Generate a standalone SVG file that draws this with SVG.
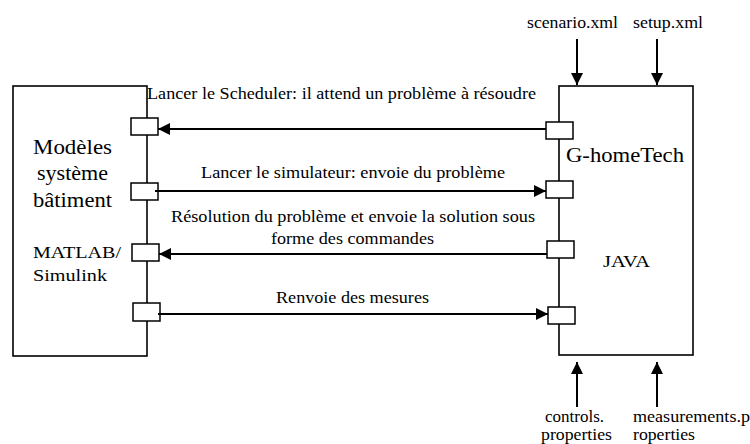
<svg xmlns="http://www.w3.org/2000/svg" width="750" height="444" viewBox="0 0 750 444">
<style>
.box{fill:#fff;stroke:#000;stroke-width:1.6}
.port{fill:#fff;stroke:#000;stroke-width:1.5}
.conn{stroke:#000;stroke-width:2;fill:none}
.s{font-size:16px}
.b{font-size:20px}
</style>
<defs>
<marker id="ah" markerUnits="userSpaceOnUse" markerWidth="13" markerHeight="12" refX="12" refY="6" orient="auto">
<path d="M0,0 L12,6 L0,12 Z" fill="#000"/>
</marker>
</defs>
<g font-family="'Liberation Serif', 'Times New Roman', serif" fill="#000">
<g id="modeles">
<rect class="box" x="13" y="86" width="134" height="270"/>
<text class="b" x="72.5" y="154" text-anchor="middle" textLength="79" lengthAdjust="spacingAndGlyphs">Modèles</text>
<text class="b" x="72.5" y="180" text-anchor="middle" textLength="71" lengthAdjust="spacingAndGlyphs">système</text>
<text class="b" x="72.5" y="207" text-anchor="middle" textLength="79" lengthAdjust="spacingAndGlyphs">bâtiment</text>
<text class="s" x="33" y="258" textLength="88" lengthAdjust="spacingAndGlyphs">MATLAB/</text>
<text class="s" x="33" y="281" textLength="74" lengthAdjust="spacingAndGlyphs">Simulink</text>
<rect class="port" x="131" y="118" width="27" height="17"/>
<rect class="port" x="131" y="183" width="27" height="17"/>
<rect class="port" x="132" y="244" width="27" height="17"/>
<rect class="port" x="133" y="303" width="27" height="18"/>
</g>
<g id="ghometech">
<rect class="box" x="559" y="86" width="134" height="269"/>
<text class="b" x="566" y="162" textLength="118" lengthAdjust="spacingAndGlyphs">G-homeTech</text>
<text class="s" x="603" y="267" textLength="47" lengthAdjust="spacingAndGlyphs">JAVA</text>
<rect class="port" x="546" y="122" width="27" height="17"/>
<rect class="port" x="546" y="181" width="27" height="17"/>
<rect class="port" x="547" y="241" width="27" height="17"/>
<rect class="port" x="548" y="307" width="27" height="17"/>
</g>
<g id="scenario">
<text class="s" x="527" y="28" textLength="91" lengthAdjust="spacingAndGlyphs">scenario.xml</text>
</g>
<g id="setup">
<text class="s" x="633" y="28" textLength="70" lengthAdjust="spacingAndGlyphs">setup.xml</text>
</g>
<g id="controls">
<text class="s" x="545" y="422" textLength="59" lengthAdjust="spacingAndGlyphs">controls.</text>
<text class="s" x="541" y="440" textLength="71" lengthAdjust="spacingAndGlyphs">properties</text>
</g>
<g id="measurements">
<text class="s" x="633" y="422" textLength="117" lengthAdjust="spacingAndGlyphs">measurements.p</text>
<text class="s" x="633" y="440" textLength="62" lengthAdjust="spacingAndGlyphs">roperties</text>
</g>
<g id="connectors">
<line class="conn" x1="546" y1="129" x2="158" y2="129" marker-end="url(#ah)"/>
<line class="conn" x1="155" y1="191" x2="546" y2="191" marker-end="url(#ah)"/>
<line class="conn" x1="547" y1="254" x2="159" y2="254" marker-end="url(#ah)"/>
<line class="conn" x1="158" y1="314" x2="548" y2="314" marker-end="url(#ah)"/>
<line class="conn" x1="577" y1="39" x2="577" y2="85" marker-end="url(#ah)"/>
<line class="conn" x1="657" y1="39" x2="657" y2="85" marker-end="url(#ah)"/>
<line class="conn" x1="577" y1="407" x2="577" y2="362" marker-end="url(#ah)"/>
<line class="conn" x1="657" y1="407" x2="657" y2="362" marker-end="url(#ah)"/>
<text class="s" x="147" y="99" textLength="389" lengthAdjust="spacingAndGlyphs">Lancer le Scheduler: il attend un problème à résoudre</text>
<text class="s" x="201" y="178" textLength="304" lengthAdjust="spacingAndGlyphs">Lancer le simulateur: envoie du problème</text>
<text class="s" x="171" y="222" textLength="364" lengthAdjust="spacingAndGlyphs">Résolution du problème et envoie la solution sous</text>
<text class="s" x="271" y="244" textLength="163" lengthAdjust="spacingAndGlyphs">forme des commandes</text>
<text class="s" x="276" y="303" textLength="153" lengthAdjust="spacingAndGlyphs">Renvoie des mesures</text>
</g>
</g>
</svg>
